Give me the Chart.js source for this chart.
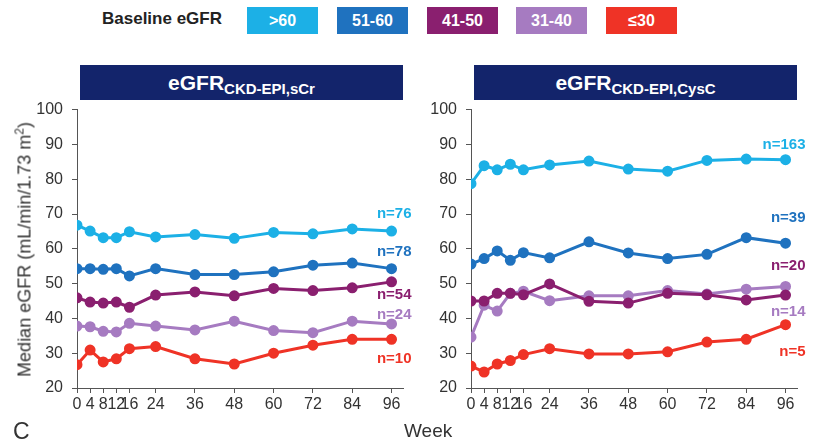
<!DOCTYPE html>
<html>
<head>
<meta charset="utf-8">
<script src="https://cdn.jsdelivr.net/npm/chart.js@4.4.0/dist/chart.umd.min.js"></script>
<style>
  body { margin: 0; background: #fff; font-family: "Liberation Sans", Arial, sans-serif; }
  #wrap { position: relative; width: 822px; height: 442px; overflow: hidden; }
  .abs { position: absolute; }
  .legTitle { left: 102px; top: 9px; font-size: 17px; font-weight: bold; color: #222; }
  .legBox { top: 7px; width: 71px; height: 27px; line-height: 27px; color: #fff; font-weight: bold; font-size: 16px; text-align: center; }
  .bar { top: 65px; height: 35px; background: #13246b; color: #fff; font-weight: bold; text-align: center; line-height: 35px; font-size: 21px; z-index: 2; }
  .bar sub { font-size: 15px; vertical-align: -4px; }
  canvas { position: absolute; top: 91px; }
</style>
</head>
<body>
<div id="wrap">
  <div class="abs legTitle">Baseline eGFR</div>
  <div id="legend"></div>
  <canvas id="left" width="420" height="340" style="left:0px;"></canvas>
  <canvas id="right" width="428" height="340" style="left:394px;"></canvas>
  <div class="abs bar" style="left:80px;width:323px;">eGFR<sub>CKD-EPI,sCr</sub></div>
  <div class="abs bar" style="left:474px;width:323px;">eGFR<sub>CKD-EPI,CysC</sub></div>
  <div class="abs" style="left:-126px;top:238px;width:300px;text-align:center;font-size:18px;color:#333;transform:rotate(-90deg);">Median eGFR (mL/min/1.73 m<sup style="font-size:12px">2</sup>)</div>
  <div class="abs" style="left:404px;top:420px;font-size:19px;color:#333;">Week</div>
  <div class="abs" style="left:13px;top:418px;font-size:23px;color:#333;">C</div>
</div>
<script>
// ===== Data =====
const weeks = [0, 4, 8, 12, 16, 24, 36, 48, 60, 72, 84, 96];
const groups = ['>60', '51-60', '41-50', '31-40', '≤30'];
const yTicks = [20, 30, 40, 50, 60, 70, 80, 90, 100];

// eGFR CKD-EPI, sCr
const scrGt60   = [66.8, 65.1, 63.2, 63.2, 64.9, 63.4, 64.1, 63.0, 64.7, 64.3, 65.7, 65.1];
const scr51to60 = [54.3, 54.3, 54.1, 54.3, 52.2, 54.3, 52.6, 52.6, 53.4, 55.3, 55.9, 54.3];
const scr41to50 = [45.9, 44.7, 44.4, 44.7, 43.2, 46.7, 47.6, 46.5, 48.6, 48.0, 48.8, 50.5];
const scr31to40 = [37.8, 37.6, 36.3, 36.1, 38.6, 37.8, 36.7, 39.2, 36.5, 35.9, 39.2, 38.4];
const scrLe30   = [26.7, 30.9, 27.5, 28.4, 31.3, 31.9, 28.4, 26.9, 30.0, 32.3, 34.0, 34.0];
const scrN = ['n=76', 'n=78', 'n=54', 'n=24', 'n=10'];

// eGFR CKD-EPI, CysC
const cysGt60   = [78.7, 83.9, 82.7, 84.3, 82.7, 84.1, 85.2, 82.9, 82.3, 85.4, 85.8, 85.6];
const cys51to60 = [55.6, 57.2, 59.4, 56.7, 58.9, 57.4, 62.0, 58.8, 57.2, 58.4, 63.2, 61.6];
const cys41to50 = [45.0, 45.0, 47.2, 47.2, 46.8, 49.9, 44.9, 44.4, 47.2, 46.8, 45.3, 46.7];
const cys31to40 = [34.6, 43.8, 42.1, 47.2, 47.8, 45.1, 46.5, 46.5, 48.0, 47.0, 48.4, 49.2];
const cysLe30   = [26.3, 24.6, 26.9, 27.9, 29.6, 31.3, 29.8, 29.8, 30.4, 33.2, 34.0, 38.2];
const cysN = ['n=163', 'n=39', 'n=20', 'n=14', 'n=5'];

// ===== Styling =====
const colors = ['#1cb0e6', '#1f72bf', '#8a1f6f', '#a67bc1', '#ef3326'];
const legendLeft = [247, 337, 427, 516, 606];
const FONT = '"Liberation Sans", Arial, sans-serif';

// legend boxes
const legendDiv = document.getElementById('legend');
groups.forEach((g, i) => {
    const d = document.createElement('div');
    d.className = 'abs legBox';
    d.style.left = legendLeft[i] + 'px';
    d.style.background = colors[i];
    d.textContent = g;
    legendDiv.appendChild(d);
});

// n= labels beside the last point of each line
const nLabels = {
    id: 'nLabels',
    afterDatasetsDraw(chart, args, opts) {
        const ctx = chart.ctx;
        ctx.save();
        ctx.font = 'bold 15px ' + FONT;
        ctx.textAlign = 'right';
        ctx.textBaseline = 'middle';
        chart.data.datasets.forEach((ds, i) => {
            const meta = chart.getDatasetMeta(i);
            const last = meta.data[meta.data.length - 1];
            ctx.fillStyle = ds.borderColor;
            ctx.fillText(opts.labels[i], last.x + opts.dx, last.y + opts.dy[i]);
        });
        ctx.restore();
    }
};

function makeChart(id, series, labels, dy, padRight) {
    const datasets = series.map((vals, i) => ({
        label: groups[i],
        data: vals.map((v, k) => ({ x: weeks[k], y: v })),
        borderColor: colors[i],
        backgroundColor: colors[i],
        borderWidth: 3,
        pointRadius: 4,
        pointHoverRadius: 4,
        tension: 0
    }));
    return new Chart(document.getElementById(id), {
        type: 'line',
        data: { datasets: datasets },
        plugins: [nLabels],
        options: {
            responsive: false,
            animation: false,
            devicePixelRatio: 1,
            layout: { padding: { top: 0, right: padRight, left: 0, bottom: 0 } },
            plugins: {
                legend: { display: false },
                tooltip: { enabled: false },
                nLabels: { labels: labels, dx: 20, dy: dy }
            },
            scales: {
                x: {
                    type: 'linear',
                    min: 0,
                    max: 99.5,
                    afterBuildTicks: s => { s.ticks = weeks.map(v => ({ value: v })); },
                    afterFit: s => { s.height = 43; },
                    ticks: { autoSkip: false, maxRotation: 0, padding: 2, color: '#333', font: { family: FONT, size: 16 } },
                    grid: { drawOnChartArea: false, tickLength: 5, color: '#555' },
                    border: { color: '#555', width: 1 }
                },
                y: {
                    min: 20,
                    max: 100,
                    afterBuildTicks: s => { s.ticks = yTicks.map(v => ({ value: v })); },
                    afterFit: s => { s.width = 77; },
                    ticks: { padding: 9, color: '#333', font: { family: FONT, size: 16 } },
                    grid: { drawOnChartArea: false, tickLength: 5, color: '#555' },
                    border: { color: '#555', width: 1 }
                }
            }
        }
    });
}

makeChart('left', [scrGt60, scr51to60, scr41to50, scr31to40, scrLe30], scrN, [-17, -17, 13, -9, 20], 17);
makeChart('right', [cysGt60, cys51to60, cys41to50, cys31to40, cysLe30], cysN, [-15, -25, -29, 25, 27], 25);
</script>
</body>
</html>
